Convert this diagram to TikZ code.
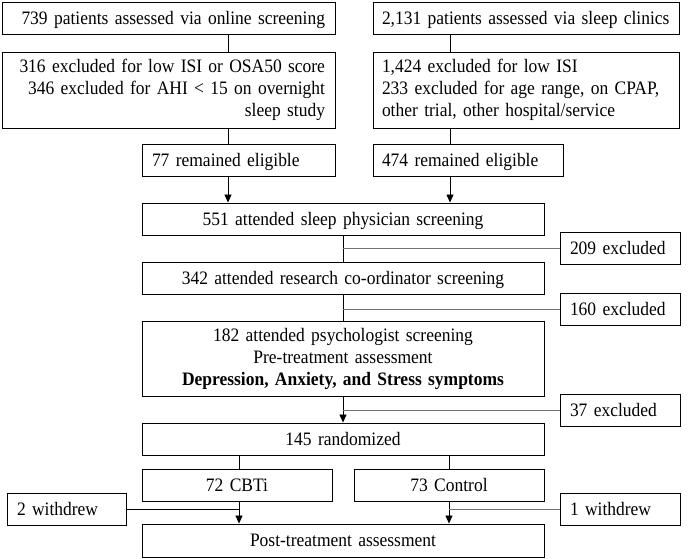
\documentclass[tikz,border=0pt]{standalone}
\usepackage{fontspec}
\setmainfont{Liberation Serif}[FakeStretch=0.92]
\usetikzlibrary{arrows.meta}
\begin{document}
\begin{tikzpicture}[x=1pt,y=-1pt,
  box/.style={draw, line width=0.9pt, inner xsep=10pt, inner ysep=0pt, minimum height=32pt, font=\fontsize{19}{22}\selectfont},
  one/.style={box, text depth=0pt},
  link/.style={line width=0.7pt},
  arr/.style={link, -{Triangle[length=8pt,width=7pt]}},
  side/.style={line width=0.8pt, draw=black!55}]
\path[fill=white] (0,0) rectangle (694,559);
\useasboundingbox (0,0) rectangle (694,559);
% top left column
\node[one, text width=313pt, align=right] (A) at (168.5,18) {739 patients assessed via online screening};
\node[box, text width=313pt, align=right, minimum height=76pt] (C) at (168.5,90) {316 excluded for low ISI or OSA50 score\\346 excluded for AHI < 15 on overnight\\sleep study};
\node[one, text width=173pt, align=left] (E) at (238.5,160) {77 remained eligible};
% top right column
\node[one, inner xsep=9pt, text width=288pt, align=left] (B) at (526,18) {2,131 patients assessed via sleep clinics};
\node[box, inner xsep=9pt, text width=288pt, align=left, minimum height=76pt] (D) at (526,90) {1,424 excluded for low ISI\\233 excluded for age range, on CPAP,\\other trial, other hospital/service};
\node[one, inner xsep=9pt, text width=172pt, align=left] (F) at (468,160) {474 remained eligible};
% main column
\node[one, text width=382pt, align=center] (G) at (343,219) {551 attended sleep physician screening};
\node[one, text width=382pt, align=center] (I) at (343,278) {342 attended research co-ordinator screening};
\node[box, text width=382pt, align=center, minimum height=75pt] (K) at (343,358.5) {182 attended psychologist screening\\Pre-treatment assessment\\\textbf{Depression, Anxiety, and Stress symptoms}};
\node[one, text width=382pt, align=center] (M) at (343,439) {145 randomized};
\node[one, text width=170pt, align=center] (N) at (237,485) {72 CBTi};
\node[one, text width=170pt, align=center] (O) at (449,485) {73 Control};
\node[one, text width=382pt, align=center, minimum height=33pt] (Q) at (343,540.5) {Post-treatment assessment};
% side boxes
\node[one, text width=100pt, align=left] (H) at (620,248) {209 excluded};
\node[one, text width=100pt, align=left] (J) at (620,309) {160 excluded};
\node[one, text width=100pt, align=left] (L) at (620,410) {37 excluded};
\node[one, text width=100pt, align=left] (R) at (620,509) {1 withdrew};
\node[one, text width=99pt, align=left] (P) at (66.5,509) {2 withdrew};
% x positions of connectors
\coordinate (xl) at (228,0);
\coordinate (xr) at (450,0);
\coordinate (xm) at (343,0);
\coordinate (xn) at (239,0);
\coordinate (xo) at (449,0);
% connectors
\draw[link] (A.south -| xl) -- (C.north -| xl);
\draw[link] (C.south -| xl) -- (E.north -| xl);
\draw[arr] (E.south -| xl) -- (G.north -| xl);
\draw[link] (B.south -| xr) -- (D.north -| xr);
\draw[link] (D.south -| xr) -- (F.north -| xr);
\draw[arr] (F.south -| xr) -- (G.north -| xr);
\draw[link] (G.south -| xm) -- (I.north -| xm);
\draw[side] (H.west) -- (H.west -| xm);
\draw[link] (I.south -| xm) -- (K.north -| xm);
\draw[side] (J.west) -- (J.west -| xm);
\draw[arr] (K.south -| xm) -- (M.north -| xm);
\draw[side] (L.west) -- (L.west -| xm);
\draw[link] (M.south -| xn) -- (N.north -| xn);
\draw[link] (M.south -| xo) -- (O.north -| xo);
\draw[arr] (N.south -| xn) -- (Q.north -| xn);
\draw[arr] (O.south -| xo) -- (Q.north -| xo);
\draw[link] (P.east) -- (P.east -| xn);
\draw[side] (R.west) -- (R.west -| xo);
\end{tikzpicture}
\end{document}
